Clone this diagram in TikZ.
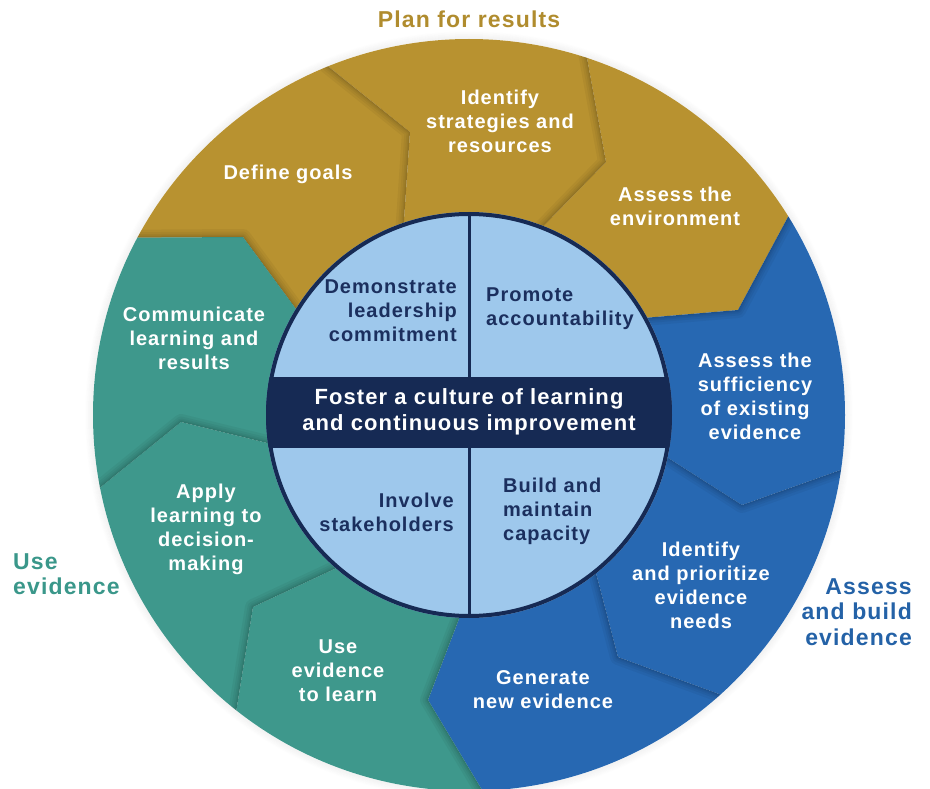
\documentclass[tikz,border=0pt]{standalone}
\usepackage{fontspec}
\setmainfont{Liberation Sans}[LetterSpace=5]
\usetikzlibrary{calc}
\definecolor{gold}{HTML}{B89230}
\definecolor{teal}{HTML}{3E988C}
\definecolor{ringblue}{HTML}{2768B2}
\definecolor{paleblue}{HTML}{9EC8EC}
\definecolor{navy}{HTML}{162A54}
\definecolor{navytext}{HTML}{1B2F5E}
\definecolor{goldlbl}{HTML}{B08C2E}
\definecolor{teallbl}{HTML}{3A978A}
\definecolor{bluelbl}{HTML}{2462A7}

\begin{document}
\begin{tikzpicture}[x=1pt, y=-1pt,
  seg/.style={text=white, font=\fontsize{20}{24}\selectfont\bfseries, align=center, inner sep=0},
  core/.style={text=navytext, font=\fontsize{20}{24}\selectfont\bfseries, inner sep=0},
  phase/.style={font=\fontsize{23}{25.5}\selectfont\bfseries, inner sep=0}]
\useasboundingbox (0,0) rectangle (930,789);
\coordinate (C) at (469,415);
% boundaries: inner end, corner, outer end, far point
\coordinate (b1-i) at (402,250); \coordinate (b1-v) at (410,132); \coordinate (b1-o) at (289,35);  \coordinate (b1-f) at (161,-351);
\coordinate (b2-i) at (520,250); \coordinate (b2-v) at (606,162); \coordinate (b2-o) at (581,25);  \coordinate (b2-f) at (729,-370);
\coordinate (b3-i) at (620,320); \coordinate (b3-v) at (738,310); \coordinate (b3-o) at (810,176); \coordinate (b3-f) at (1171,-21);
\coordinate (b4-i) at (640,440); \coordinate (b4-v) at (742,505); \coordinate (b4-o) at (880,456); \coordinate (b4-f) at (1287,536);
\coordinate (b5-i) at (590,550); \coordinate (b5-v) at (618,657); \coordinate (b5-o) at (760,709); \coordinate (b5-f) at (1019,1029);
\coordinate (b6-i) at (470,590); \coordinate (b6-v) at (428,700); \coordinate (b6-o) at (500,820); \coordinate (b6-f) at (493,1233);
\coordinate (b7-i) at (360,557); \coordinate (b7-v) at (253,607); \coordinate (b7-o) at (230,750); \coordinate (b7-f) at (-41,1064);
\coordinate (b8-i) at (300,451); \coordinate (b8-v) at (181,422); \coordinate (b8-o) at (70,512);  \coordinate (b8-f) at (-341,573);
\coordinate (b9-i) at (310,328); \coordinate (b9-v) at (243,237); \coordinate (b9-o) at (80,238);  \coordinate (b9-f) at (-264,26);

\foreach \r in {1,...,8}
  \draw[black, opacity={0.045*(9-\r)/8}, line width=1pt] (C) circle ({375.5pt+\r pt});

\begin{scope}
\clip (C) circle (376pt);
\foreach \a/\b/\col in {9/1/gold, 1/2/gold, 2/3/gold, 3/4/ringblue, 4/5/ringblue, 5/6/ringblue, 6/7/teal, 7/8/teal, 8/9/teal}
  \fill[\col] (C) -- (b\a-i) -- (b\a-v) -- (b\a-o) -- (b\a-f) -- (b\b-f) -- (b\b-o) -- (b\b-v) -- (b\b-i) -- cycle;
\foreach \k/\a/\b in {1/9/1, 2/1/2, 3/3/4, 4/4/5, 5/5/6, 6/6/7, 7/7/8, 8/8/9, 9/9/1} {
  \begin{scope}
  \clip (C) -- (b\a-i) -- (b\a-v) -- (b\a-o) -- (b\a-f) -- (b\b-f) -- (b\b-o) -- (b\b-v) -- (b\b-i) -- cycle;
  \foreach \w in {16,11,7,4,2}
    \draw[black, opacity=0.045, line width=\w pt, line join=round] (b\k-i) -- (b\k-v) -- (b\k-o);
  \end{scope}
}
\end{scope}

\fill[paleblue] (C) circle (203pt);
\begin{scope}
\clip (C) circle (203pt);
\fill[navy] (250,377) rectangle (690,448);
\end{scope}
\draw[navy, line width=3pt] ($(C)+(0,-203)$) -- ($(C)+(0,203)$);
\draw[navy, line width=4pt] (C) circle (201pt);

\node[phase, text=goldlbl] (plan) at (469,19) {Plan for results};
\node[phase, text=teallbl, align=left, anchor=west] (use) at (13,574) {Use\\evidence};
\node[phase, text=bluelbl, align=right, anchor=east] (assess) at (912,612) {Assess\\and build\\evidence};

\node[seg] (goals) at (288,174) {Define goals};
\node[seg] (strategies) at (500,121) {Identify\\strategies and\\resources};
\node[seg] (environment) at (675,206) {Assess the\\environment};
\node[seg] (sufficiency) at (755,396) {Assess the\\sufficiency\\of existing\\evidence};
\node[seg] (needs) at (701,585) {Identify\\and prioritize\\evidence\\needs};
\node[seg] (generate) at (543,690) {Generate\\new evidence};
\node[seg] (learn) at (338,671) {Use\\evidence\\to learn};
\node[seg] (apply) at (206,529) {Apply\\learning to\\decision-\\making};
\node[seg] (communicate) at (194,338) {Communicate\\learning and\\results};

\node[core, align=right, anchor=east] (leadership) at (457,311) {Demonstrate\\leadership\\commitment};
\node[core, align=left, anchor=west] (accountability) at (486,309) {Promote\\accountability};
\node[core, align=right, anchor=east] (stakeholders) at (454,512) {Involve\\stakeholders};
\node[core, align=left, anchor=west] (capacity) at (503,511) {Build and\\maintain\\capacity};

\node[text=white, font=\fontsize{22}{26}\selectfont\bfseries, align=center, inner sep=0] (culture) at (469,412) {Foster a culture of learning\\and continuous improvement};
\end{tikzpicture}
\end{document}
